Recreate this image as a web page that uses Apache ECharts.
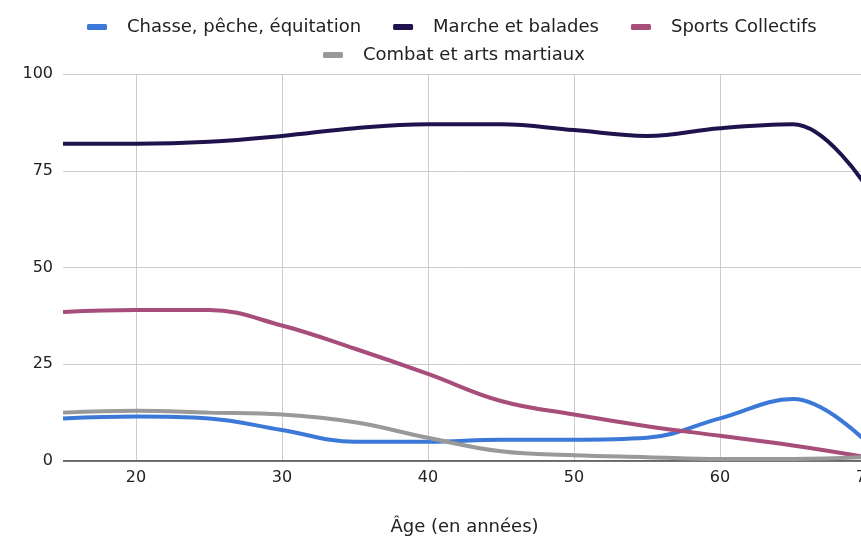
<!DOCTYPE html>
<html><head><meta charset="utf-8">
<script src="https://cdn.jsdelivr.net/npm/echarts@6/dist/echarts.min.js"></script>
<style>html,body{margin:0;padding:0;background:#fff}#c{width:861px;height:538px}</style>
</head><body><div id="c"></div>
<script>
const ages = [15, 20, 25, 30, 35, 40, 45, 50, 55, 60, 65, 70];
const chasse = [11, 11.5, 11, 8, 5, 5, 5.5, 5.5, 6, 11, 16, 5];
const marche = [82, 82, 82.5, 84, 86, 87, 87, 85.5, 84, 86, 87, 71];
const sports = [38.5, 39, 39, 35, 29, 22.5, 15.5, 12, 9, 6.5, 4, 1];
const combat = [12.5, 13, 12.5, 12, 10, 6, 2.5, 1.5, 1, 0.5, 0.5, 1];
const names = ["Chasse, pêche, équitation", "Marche et balades", "Sports Collectifs", "Combat et arts martiaux"];
const colors = ["#3c78d8", "#20124d", "#a64d79", "#999999"];
const yTicks = [0, 25, 50, 75, 100];

const font = "'DejaVu Sans', sans-serif";
function mk(i, vals) {
  return {
    name: names[i], type: 'line', smooth: 0.4, symbol: 'none',
    data: ages.map((a, k) => [a, vals[k]]),
    lineStyle: { width: 4, color: colors[i] }, itemStyle: { color: colors[i] }
  };
}
const legendBase = {
  itemGap: 32, itemWidth: 20, itemHeight: 6, icon: 'roundRect',
  textStyle: { fontFamily: font, fontSize: 18, color: '#222', padding: [0, 0, 0, 15] }
};
const chart = echarts.init(document.getElementById('c'));
chart.setOption({
  animation: false,
  color: colors,
  legend: [
    Object.assign({}, legendBase, { top: 13, left: 82, data: names.slice(0, 3) }),
    Object.assign({}, legendBase, { top: 41, left: 318, data: names.slice(3) })
  ],
  grid: { left: 63, width: 803, top: 74, bottom: 77, outerBoundsMode: 'none', containLabel: false },
  xAxis: {
    type: 'value', min: 15, max: 70,
    name: 'Âge (en années)', nameLocation: 'middle', nameGap: 57,
    nameTextStyle: { fontFamily: font, fontSize: 18, color: '#222' },
    axisLine: { show: false }, axisTick: { show: false },
    axisLabel: { showMinLabel: false, fontFamily: font, fontSize: 16, color: '#222', margin: 9 },
    splitLine: { show: true, showMinLine: false, lineStyle: { color: '#cccccc' } }
  },
  yAxis: {
    type: 'value', min: yTicks[0], max: yTicks[yTicks.length - 1], interval: 25,
    axisLine: { show: false }, axisTick: { show: false },
    axisLabel: { fontFamily: font, fontSize: 16, color: '#222', margin: 10 },
    splitLine: { lineStyle: { color: '#cccccc' } }
  },
  series: [mk(0, chasse), mk(1, marche), mk(2, sports), mk(3, combat),
    { type: 'line', data: [[15, 0], [70, 0]], symbol: 'none', silent: true,
      lineStyle: { color: '#333', width: 1.5 }, z: 1, name: '_axis' }]
});
</script></body></html>
